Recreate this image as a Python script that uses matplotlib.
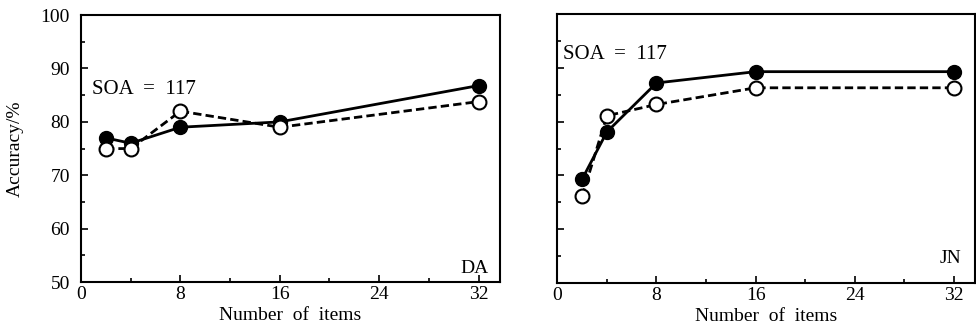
import numpy as np
import matplotlib
matplotlib.use('Agg')
import matplotlib.pyplot as plt
from matplotlib.ticker import MultipleLocator

plt.rcParams['font.family'] = ['Liberation Serif', 'DejaVu Serif']

items = [2, 4, 8, 16, 32]

# DA panel
da_filled = [77, 76, 79, 80, 86.8]
da_open = [75, 75, 82, 79, 83.8]

# JN panel
jn_filled = [69.3, 78.1, 87.2, 89.3, 89.3]
jn_open = [66.1, 81.1, 83.2, 86.3, 86.3]

fig = plt.figure(figsize=(9.76, 3.28), dpi=100)
ax1 = fig.add_axes([0.083, 0.140, 0.429, 0.814])
ax2 = fig.add_axes([0.571, 0.137, 0.428, 0.820])


def style(ax, labels=True):
    ax.set_xlim(0, 33.7)
    ax.set_ylim(50, 100)
    ax.xaxis.set_major_locator(MultipleLocator(8))
    ax.xaxis.set_minor_locator(MultipleLocator(4))
    ax.yaxis.set_major_locator(MultipleLocator(10))
    ax.yaxis.set_minor_locator(MultipleLocator(5))
    ax.tick_params(which='both', direction='in', top=False, right=False,
                   labelsize=14, width=1.2)
    ax.tick_params(axis='y', pad=8)
    ax.tick_params(axis='x', pad=3)
    ax.tick_params(which='major', length=5)
    ax.tick_params(which='minor', length=3)
    for s in ax.spines.values():
        s.set_linewidth(1.5)
    if not labels:
        ax.set_yticklabels([])
    ax.set_xlabel('Number  of  items', fontsize=14, labelpad=3)


def draw(ax, filled, opened):
    ax.plot(items, filled, '-', color='black', lw=2, marker='o', ms=10,
            mfc='black', mec='black', zorder=3)
    ax.plot(items, opened, '--', color='black', lw=2, marker='o', ms=10,
            mfc='white', mec='black', mew=1.5, dashes=(3, 1.5), zorder=4)


draw(ax1, da_filled, da_open)
style(ax1)
ax1.set_ylabel('Accuracy/%', fontsize=14, labelpad=12)
ax1.text(0.9, 86, 'SOA  =  117', fontsize=15, va='center', ha='left')
ax1.text(32.8, 52.5, 'DA', fontsize=14, va='center', ha='right')

draw(ax2, jn_filled, jn_open)
style(ax2, labels=False)
ax2.text(0.5, 92.5, 'SOA  =  117', fontsize=15, va='center', ha='left')
ax2.text(32.6, 54.5, 'JN', fontsize=14, va='center', ha='right')

fig.savefig('out.png', dpi=100)
